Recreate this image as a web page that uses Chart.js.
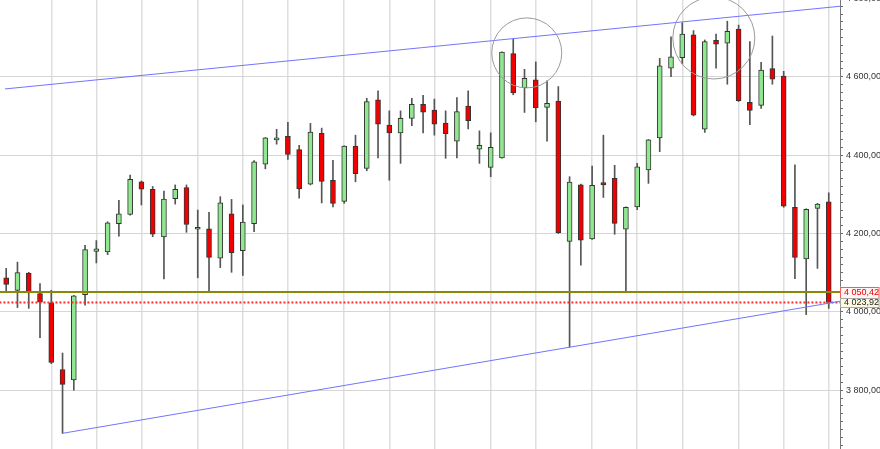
<!DOCTYPE html>
<html>
<head>
<meta charset="utf-8">
<script src="https://cdn.jsdelivr.net/npm/chart.js@4.4.1/dist/chart.umd.min.js"></script>
<style>
  html, body { margin: 0; padding: 0; background: #fff; }
  canvas { display: block; }
</style>
</head>
<body>
<canvas id="chart" width="880" height="449"></canvas>
<script>
// Daily candles (index 0 = oldest)
const opens  = [4087, 4055, 4099, 4047, 4023, 3853, 3826, 4044, 4154, 4153, 4225, 4249, 4332, 4313, 4191, 4289, 4317, 4211, 4212, 4137,
                4250, 4156, 4225, 4377, 4439, 4448, 4414, 4326, 4456, 4336, 4282, 4423, 4366, 4541, 4477, 4457, 4494, 4530, 4515, 4482,
                4436, 4525, 4415, 4369, 4393, 4659, 4572, 4592, 4522, 4538, 4180, 4324, 4186, 4330, 4341, 4211, 4268, 4362, 4444, 4622,
                4649, 4707, 4466, 4693, 4686, 4722, 4535, 4527, 4621, 4602, 4267, 4135, 4264, 4281];
const highs  = [4111, 4127, 4101, 4072, 4055, 3895, 4042, 4170, 4182, 4230, 4285, 4349, 4334, 4320, 4308, 4324, 4324, 4260, 4254, 4294,
                4287, 4273, 4386, 4445, 4466, 4484, 4425, 4481, 4469, 4387, 4424, 4451, 4545, 4564, 4513, 4513, 4545, 4553, 4543, 4513,
                4547, 4564, 4462, 4457, 4664, 4696, 4619, 4638, 4590, 4575, 4345, 4326, 4372, 4451, 4374, 4268, 4379, 4440, 4647, 4702,
                4738, 4718, 4694, 4709, 4742, 4732, 4690, 4637, 4704, 4614, 4375, 4263, 4277, 4304];
const lows   = [4054, 4011, 4009, 3934, 3868, 3690, 3800, 4017, 4125, 4146, 4193, 4247, 4273, 4192, 4084, 4275, 4203, 4087, 4050, 4113,
                4101, 4093, 4205, 4365, 4428, 4389, 4290, 4324, 4278, 4268, 4277, 4332, 4360, 4393, 4336, 4379, 4475, 4457, 4451, 4392,
                4393, 4467, 4379, 4345, 4392, 4554, 4509, 4485, 4436, 4200, 3910, 4119, 4185, 4292, 4198, 4050, 4261, 4328, 4409, 4600,
                4633, 4500, 4458, 4622, 4581, 4537, 4478, 4519, 4581, 4267, 4085, 3993, 4111, 4009];
const closes = [4070, 4100, 4050, 4025, 3871, 3815, 4041, 4159, 4161, 4227, 4250, 4338, 4313, 4198, 4288, 4313, 4223, 4216, 4139, 4278,
                4151, 4229, 4383, 4444, 4444, 4402, 4314, 4459, 4333, 4277, 4423, 4353, 4537, 4479, 4457, 4494, 4530, 4510, 4479, 4455,
                4511, 4488, 4425, 4420, 4663, 4559, 4596, 4521, 4532, 4202, 4331, 4183, 4323, 4324, 4226, 4267, 4370, 4439, 4628, 4651,
                4709, 4502, 4690, 4683, 4716, 4539, 4514, 4617, 4594, 4270, 4139, 4262, 4275, 4023.92];

// candles where a new week starts (vertical grid)
const weekStarts = [4, 8, 12, 17, 21, 25, 30, 34, 38, 43, 47, 52, 56, 60, 65, 69, 73];

// horizontal levels
const levelOlive = 4050.42;
const levelClose = 4023.92;

// trend lines: [x, price] end points
const upperTrend = [[-0.11, 4569], [74, 4780]];
const lowerTrend = [[5, 3690], [74, 4027]];

// marked zones: [x, price, radius]
const circles = [[46.2, 4661, 35], [62.8, 4699, 41]];

function fmt(v) {
  const s = v.toFixed(2).replace('.', ',');
  return s.replace(/^(\d)(\d{3})/, '$1 $2');
}

const idx = opens.map((_, i) => i);
const isUp = idx.map(i => closes[i] >= opens[i]);

const priceTags = {
  id: 'priceTags',
  afterDraw(chart) {
    const c = chart.ctx;
    const y = chart.scales.y;
    const left = chart.chartArea.right;
    const tags = [
      { v: levelOlive, h: 11, fill: '#fff3f3', stroke: '#ff5a5a', text: '#e80000' },
      { v: levelClose, h: 9, fill: '#fffbe2', stroke: '#a8a8a8', text: '#222' }
    ];
    c.save();
    c.font = '9px "Liberation Sans", Arial, sans-serif';
    c.textBaseline = 'middle';
    tags.forEach(t => {
      const py = y.getPixelForValue(t.v);
      c.fillStyle = t.fill;
      c.fillRect(left + 0.5, py - t.h / 2, 39, t.h);
      c.strokeStyle = t.stroke;
      c.lineWidth = 1;
      c.strokeRect(left + 0.5, Math.round(py - t.h / 2) + 0.5, 38.5, t.h);
      c.fillStyle = t.text;
      c.fillText(fmt(t.v), left + 4, py + 0.5);
    });
    c.restore();
  }
};

const ctx = document.getElementById('chart').getContext('2d');
new Chart(ctx, {
  type: 'bar',
  data: {
    datasets: [
      {
        type: 'bubble',
        data: circles.map(p => ({ x: p[0], y: p[1], r: p[2] })),
        borderColor: '#9a9a9a',
        backgroundColor: 'rgba(0,0,0,0)',
        borderWidth: 1,
        order: 0
      },
      {
        type: 'line',
        data: upperTrend.map(p => ({ x: p[0], y: p[1] })),
        borderColor: '#7373ff',
        borderWidth: 1,
        pointRadius: 0,
        order: 1
      },
      {
        type: 'line',
        data: lowerTrend.map(p => ({ x: p[0], y: p[1] })),
        borderColor: '#7373ff',
        borderWidth: 1,
        pointRadius: 0,
        order: 1
      },
      {
        type: 'line',
        data: [{ x: -0.6, y: levelOlive }, { x: 74.1, y: levelOlive }],
        borderColor: '#8a8a00',
        borderWidth: 2,
        pointRadius: 0,
        order: 1
      },
      {
        type: 'line',
        data: [{ x: -0.6, y: levelClose }, { x: 74.1, y: levelClose }],
        borderColor: '#ff2a2a',
        borderWidth: 2,
        borderDash: [2, 2],
        pointRadius: 0,
        order: 1
      },
      {
        label: 'body',
        data: idx.map(i => ({ x: i, y: [opens[i], closes[i]] })),
        backgroundColor: idx.map(i => isUp[i] ? '#8fe88f' : '#f20000'),
        borderColor: '#333',
        borderWidth: 1,
        borderSkipped: false,
        barThickness: 5,
        grouped: false,
        order: 2
      },
      {
        label: 'wick',
        data: idx.map(i => ({ x: i, y: [lows[i], highs[i]] })),
        backgroundColor: '#555',
        borderWidth: 0,
        barThickness: 1,
        grouped: false,
        order: 3
      }
    ]
  },
  options: {
    responsive: false,
    animation: false,
    devicePixelRatio: 1,
    layout: { padding: 0, autoPadding: false },
    plugins: { legend: { display: false }, tooltip: { enabled: false } },
    events: [],
    scales: {
      x: {
        type: 'linear',
        min: -0.55,
        max: 74,
        offset: false,
        ticks: { display: false },
        grid: { color: '#dedede', lineWidth: 1.5, drawTicks: false, offset: false },
        border: { display: false },
        afterBuildTicks: s => { s.ticks = weekStarts.map(v => ({ value: v })); },
        afterFit: s => { s.height = 0; s.paddingLeft = 0; s.paddingRight = 0; }
      },
      y: {
        position: 'right',
        min: 3650,
        max: 4796,
        afterBuildTicks: s => {
          const t = [];
          for (let v = 3660; v <= 4800; v += 20) t.push({ value: v });
          s.ticks = t;
        },
        ticks: {
          autoSkip: false,
          padding: 3,
          color: '#333',
          font: { size: 9, family: '"Liberation Sans", Arial, sans-serif' },
          callback: v => (v % 200 === 0 ? fmt(v) : '')
        },
        grid: {
          color: c => (c.tick && c.tick.value % 200 === 0 ? '#d6d6d6' : 'rgba(0,0,0,0)'),
          tickColor: '#666',
          tickLength: 3,
          lineWidth: 1
        },
        border: { color: '#777' },
        afterFit: s => { s.width = 40; s.paddingTop = 0; s.paddingBottom = 0; }
      }
    }
  },
  plugins: [priceTags]
});
</script>
</body>
</html>
